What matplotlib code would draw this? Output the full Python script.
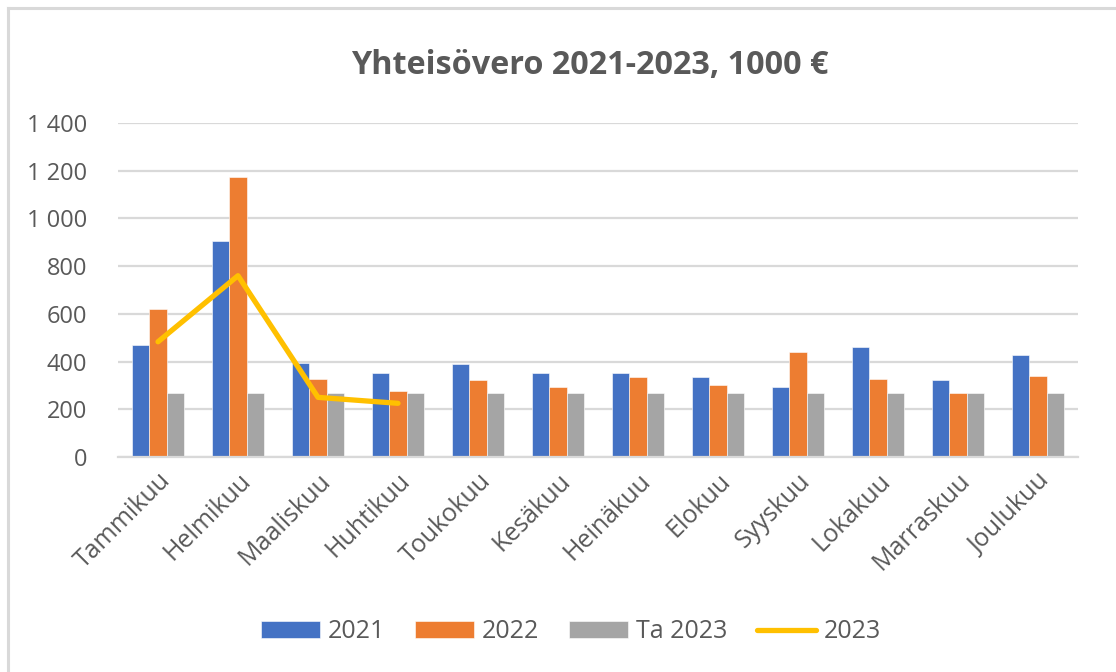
import matplotlib
matplotlib.use("Agg")
import matplotlib.pyplot as plt
import numpy as np
from matplotlib.lines import Line2D
from matplotlib.ticker import FuncFormatter

plt.rcParams['font.family'] = ['Open Sans', 'DejaVu Sans']

# data, 1000 €
months = ['Tammikuu', 'Helmikuu', 'Maaliskuu', 'Huhtikuu', 'Toukokuu', 'Kesäkuu',
          'Heinäkuu', 'Elokuu', 'Syyskuu', 'Lokakuu', 'Marraskuu', 'Joulukuu']
v2021 = [470, 907, 395, 351, 389, 351, 351, 334, 295, 459, 322, 427]
v2022 = [620, 1175, 326, 277, 322, 295, 334, 302, 441, 327, 270, 340]
ta2023 = [270] * 12
v2023 = [483, 760, 250, 225]

text_col = '#595959'
grid_col = '#D9D9D9'

fig = plt.figure(figsize=(11.16, 6.72), dpi=100)
ax = fig.add_axes([118 / 1116, 1 - 457 / 672, 960 / 1116, 334 / 672])

x = np.arange(len(months))
w = 0.22
b1 = ax.bar(x - w, v2021, w, color='#4472C4', label='2021', edgecolor='white', linewidth=0.4, zorder=2)
b2 = ax.bar(x, v2022, w, color='#ED7D31', label='2022', edgecolor='white', linewidth=0.4, zorder=2)
b3 = ax.bar(x + w, ta2023, w, color='#A5A5A5', label='Ta 2023', edgecolor='white', linewidth=0.4, zorder=2)
ln, = ax.plot(x[:len(v2023)], v2023, color='#FFC000', linewidth=3.8, solid_capstyle='round',
              solid_joinstyle='round', label='2023', zorder=3)

ax.set_xlim(-0.5, len(months) - 0.5)
ax.set_ylim(0, 1400)
ax.set_yticks(range(0, 1401, 200))
ax.yaxis.set_major_formatter(FuncFormatter(lambda v, p: f"{int(v):,}".replace(',', ' ')))
ax.grid(axis='y', color=grid_col, linewidth=1.6, zorder=0)
for s in ['top', 'right', 'left']:
    ax.spines[s].set_visible(False)
ax.spines['bottom'].set_color(grid_col)
ax.spines['bottom'].set_linewidth(1.6)
ax.tick_params(axis='both', length=0, colors=text_col)
ax.tick_params(axis='y', pad=22, labelsize=17)
ax.set_xticks(x)
ax.set_xticklabels(months, rotation=45, ha='right', rotation_mode='anchor')
ax.tick_params(axis='x', pad=8, labelsize=18)

fig.text(590 / 1116, 1 - 65 / 672, 'Yhteisövero 2021-2023, 1000 €', ha='center', va='center',
         fontsize=23.3, fontweight='bold', color=text_col)

leg = fig.legend([b1, b2, b3, ln], ['2021', '2022', 'Ta 2023', '2023'],
                 loc='center', bbox_to_anchor=(571 / 1116, 1 - 632 / 672), ncol=4, frameon=False,
                 fontsize=18, handlelength=2.36, handleheight=0.64, columnspacing=1.2,
                 handletextpad=0.3)
for t in leg.get_texts():
    t.set_color(text_col)

# chart frame (only top and left edges fall inside the picture)
fig.add_artist(Line2D([8 / 1116, 8 / 1116], [0, 1 - 8 / 672], transform=fig.transFigure,
                      color=grid_col, linewidth=2.2))
fig.add_artist(Line2D([8 / 1116, 1], [1 - 8 / 672, 1 - 8 / 672], transform=fig.transFigure,
                      color=grid_col, linewidth=2.2))

fig.savefig('out.png', dpi=100, facecolor='white')
